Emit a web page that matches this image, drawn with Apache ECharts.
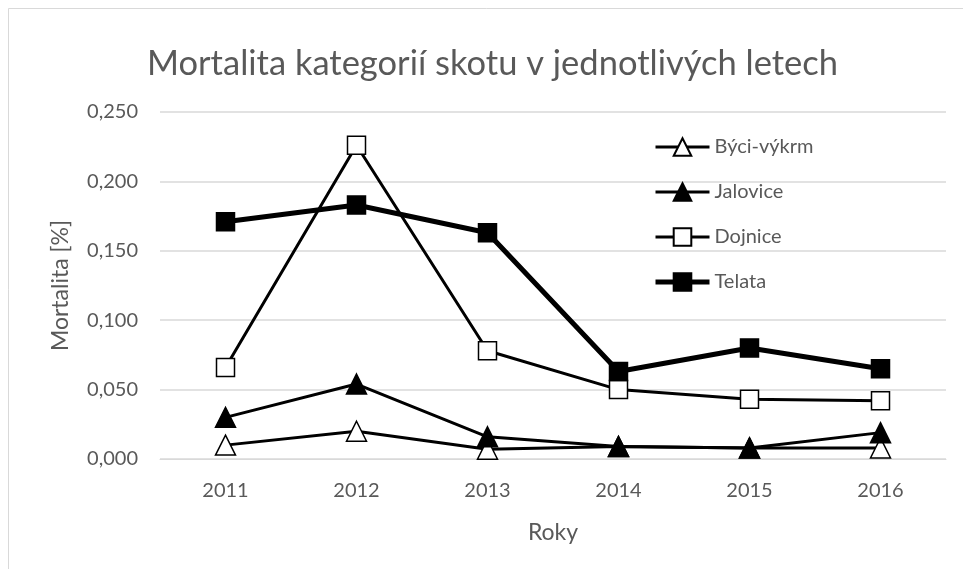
<!DOCTYPE html>
<html>
<head>
<meta charset="utf-8" />
<title>Mortalita</title>
<script src="https://cdn.jsdelivr.net/npm/echarts@6/dist/echarts.min.js"></script>
</head>
<body style="margin:0">
<div id="main" style="width:963px;height:569px;"></div>
<script>
	// data
	var years = ['2011', '2012', '2013', '2014', '2015', '2016'];
	var byci = [0.010, 0.020, 0.007, 0.009, 0.008, 0.008];
	var jalovice = [0.030, 0.054, 0.016, 0.009, 0.008, 0.019];
	var dojnice = [0.066, 0.226, 0.078, 0.050, 0.043, 0.042];
	var telata = [0.171, 0.183, 0.163, 0.063, 0.080, 0.065];

	var font = 'Lato, "Open Sans", sans-serif';
	var grey = '#595959';

	function line(name, data, symbol, fill, width, size) {
		return {
			name: name,
			type: 'line',
			data: data,
			symbol: symbol,
			symbolSize: size,
			animation: false,
			lineStyle: { color: '#000', width: width },
			itemStyle: { color: fill, borderColor: '#000', borderWidth: 1.5 }
		};
	}

	var myChart = echarts.init(document.getElementById('main'));
	var option = {
		backgroundColor: '#fff',
		title: {
			text: 'Mortalita kategorií skotu v jednotlivých letech',
			left: 142,
			top: 41,
			textStyle: { fontFamily: font, fontWeight: 'normal', fontSize: 34.5, color: grey }
		},
		graphic: [{
			type: 'rect',
			shape: { x: 8.5, y: 8.5, width: 990, height: 600 },
			style: { fill: 'none', stroke: '#d9d9d9', lineWidth: 1 },
			silent: true
		}],
		legend: {
			orient: 'vertical',
			left: 648,
			top: 132,
			itemGap: 25,
			itemWidth: 54,
			itemHeight: 22,
			textStyle: { fontFamily: font, fontSize: 20, color: grey },
			data: [
				{ name: 'Býci-výkrm', lineStyle: { width: 3 } },
				{ name: 'Jalovice', lineStyle: { width: 3 } },
				{ name: 'Dojnice', lineStyle: { width: 3 } },
				{ name: 'Telata', lineStyle: { width: 5 } }
			]
		},
		grid: { left: 160, right: 17, top: 112, bottom: 110, outerBoundsMode: 'none' },
		xAxis: {
			type: 'category',
			data: years,
			name: 'Roky',
			nameLocation: 'middle',
			nameGap: 62,
			nameTextStyle: { fontFamily: font, fontSize: 23, color: grey },
			axisLine: { lineStyle: { color: '#d9d9d9' } },
			axisTick: { show: false },
			axisLabel: { fontFamily: font, fontSize: 20, color: grey, margin: 22 }
		},
		yAxis: {
			type: 'value',
			min: 0,
			max: 0.25,
			interval: 0.05,
			name: 'Mortalita [%]',
			nameLocation: 'middle',
			nameGap: 88,
			nameTextStyle: { fontFamily: font, fontSize: 23, color: grey },
			axisLine: { show: false },
			axisTick: { show: false },
			splitLine: { lineStyle: { color: '#d9d9d9', width: 1.5 } },
			axisLabel: {
				fontFamily: font, fontSize: 20, color: grey, margin: 22,
				formatter: function (v) { return v.toFixed(3).replace('.', ','); }
			}
		},
		series: [
			line('Býci-výkrm', byci, 'triangle', '#fff', 3, 20),
			line('Jalovice', jalovice, 'triangle', '#000', 3, 20),
			line('Dojnice', dojnice, 'rect', '#fff', 3, 18),
			line('Telata', telata, 'rect', '#000', 5, 18)
		]
	};
	myChart.setOption(option);
</script>
</body>
</html>
